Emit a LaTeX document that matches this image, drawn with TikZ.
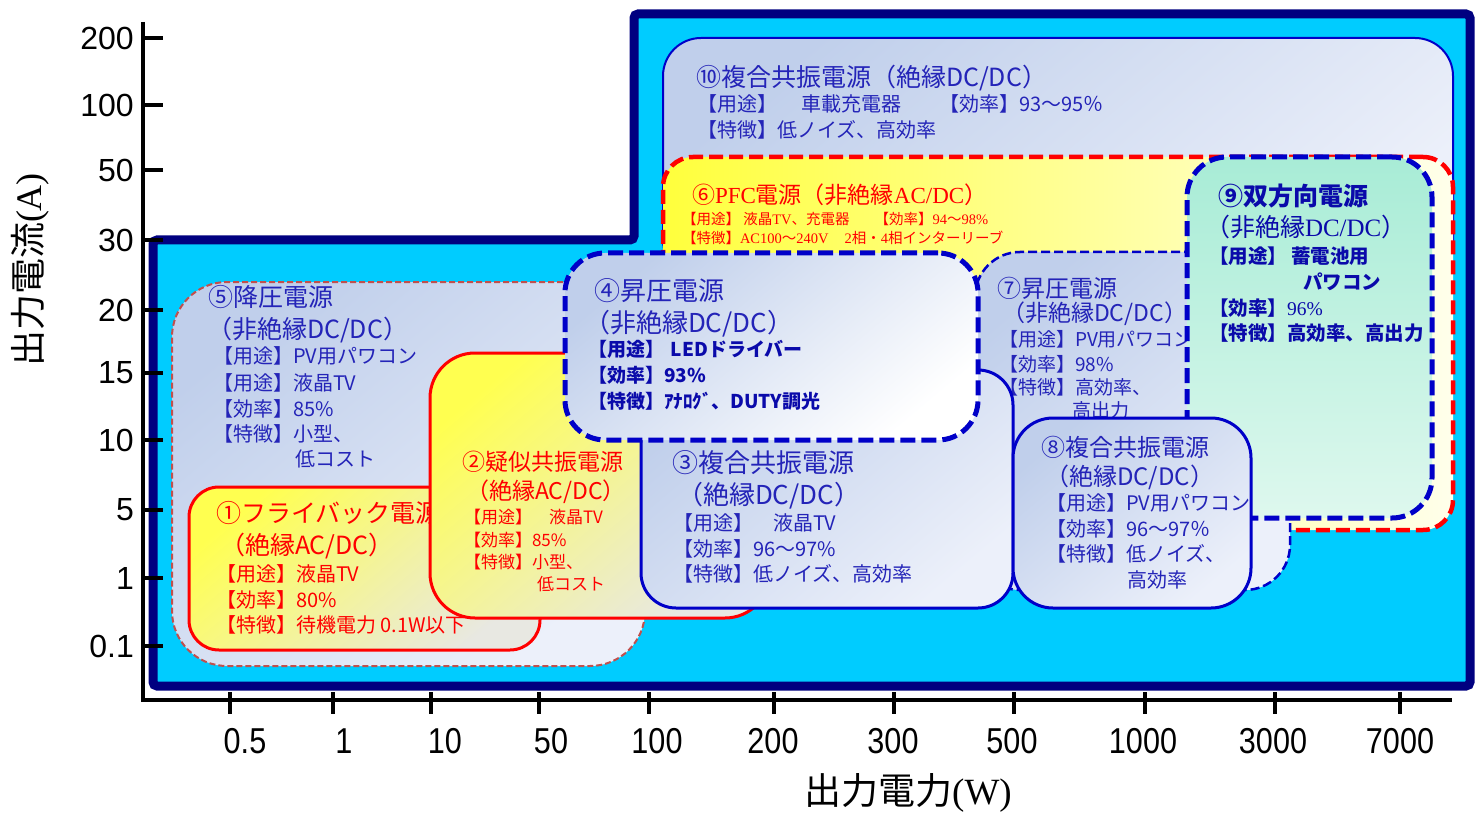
\documentclass[tikz,border=0pt]{standalone}
\usepackage{fontspec}
\setmainfont{Noto Sans CJK JP}
\newfontfamily\serf{Liberation Serif}
\newfontfamily\arl{Liberation Sans}
\definecolor{navyc}{RGB}{0,0,128}
\definecolor{cyanc}{RGB}{0,204,255}
\definecolor{boxblue}{RGB}{0,0,200}
\definecolor{tb}{RGB}{36,36,184}
\definecolor{tbd}{RGB}{10,10,170}
\definecolor{tr}{RGB}{255,0,0}
\definecolor{lav1}{RGB}{192,207,235}
\definecolor{lav2}{RGB}{236,240,250}
\definecolor{yel1}{RGB}{255,255,80}
\definecolor{yel2}{RGB}{232,232,226}
\definecolor{yel6a}{RGB}{255,255,60}
\definecolor{yel6b}{RGB}{255,255,235}
\definecolor{mint1}{RGB}{168,236,214}
\definecolor{mint2}{RGB}{222,248,238}
\definecolor{brd5}{RGB}{192,80,77}
\begin{document}
\begin{tikzpicture}[x=1pt,y=-1pt,
  tx/.style={anchor=base west, inner sep=0pt, outer sep=0pt, font=\fontsize{#1}{#1}\selectfont},
  bx/.style={rectangle, inner sep=0pt, outer sep=0pt, anchor=north west},
  lav/.style={top color=lav1, bottom color=lav2, shading angle=40},
  yel/.style={top color=yel1, bottom color=yel2, shading angle=40},
  axisline/.style={line width=4pt, black},
  tickline/.style={line width=3.5pt, black},
  ylab/.style={anchor=east, inner sep=0pt, font=\arl\fontsize{32}{32}\selectfont},
  xlab/.style={anchor=center, inner sep=0pt, xscale=0.85, font=\arl\fontsize{36}{36}\selectfont},
  thickdash/.style={line width=5pt, dash pattern=on 15pt off 6pt},
  thindash/.style={line width=2.5pt, dash pattern=on 9pt off 4pt}
]
\useasboundingbox (0,0) rectangle (1481,813);
\fill[white] (0,0) rectangle (1481,813);
% background region
\draw[line width=9pt, draw=navyc, fill=cyanc, rounded corners=4pt]
  (153,240) -- (634,240) -- (634,14) -- (1470,14) -- (1470,686) -- (153,686) -- cycle;
% axes
\coordinate (ytop) at (143,22);
\coordinate (orig) at (143,700);
\coordinate (xend) at (1452,700);
\draw[axisline] (ytop) -- (orig) -- (xend);
\foreach \yy/\lab [count=\i] in {38/200,105/100,170/50,240/30,310/20,373/15,440/10,510/5,578/1,646/0.1}{
  \draw[tickline] (143,\yy) -- (163,\yy);
  \node[ylab] (yl\i) at (134,\yy) {\lab};
}
\foreach \xx/\lab/\lx [count=\i] in {230/0.5/245,333/1/344,431/10/445,539/50/551,649/100/657,774/200/773,894/300/893,1014/500/1012,1145/1000/1143,1275/3000/1273,1400/7000/1400}{
  \draw[tickline] (\xx,692) -- (\xx,714);
  \node[xlab] (xl\i) at (\lx,741) {\lab};
}
\node[font=\fontsize{37}{37}\selectfont, inner sep=0pt] (xt) at (908,793) {出力電力{\serf (W)}};
\node[font=\fontsize{36}{36}\selectfont, inner sep=0pt, rotate=90] (yt) at (30,270) {出力電流{\serf (A)}};

% (10)
\node[bx, lav, draw=boxblue, line width=2pt, rounded corners=38pt, minimum width=790pt, minimum height=240pt] (b10) at (663,38) {};
\node[tx=25, text=tb] (t10a) at (696,86.5) {⑩複合共振電源（絶縁DC/DC）};
\node[tx=20, text=tb] (t10b) at (697,111.6) {【用途】\hspace{24pt}車載充電器\hspace{38pt}【効率】93～95％};
\node[tx=20, text=tb] (t10c) at (697,137.6) {【特徴】低ノイズ、高効率};

% (6)
\node[bx, left color=yel6a, right color=yel6b, draw=red, line width=4.5pt, dash pattern=on 14pt off 6pt, rounded corners=30pt, minimum width=790pt, minimum height=373pt] (b6) at (663,157) {};
\node[tx=23, text=tr] (t6a) at (692,203.7) {⑥{\serf PFC}電源（非絶縁{\serf AC/DC}）};
\node[tx=14.5, text=tr] (t6b) at (682,224.5) {【用途】 液晶{\serf TV}、充電器\hspace{25pt}【効率】{\serf 94}～{\serf 98\%}};
\node[tx=14.5, text=tr] (t6c) at (682,243.5) {【特徴】{\serf AC100}～{\serf 240V}\hspace{16pt}{\serf 2}相・{\serf 4}相インターリーブ};

% (7)
\node[bx, lav, draw=boxblue, thindash, rounded corners=45pt, minimum width=315pt, minimum height=338pt] (b7) at (975,252) {};
\node[tx=24, text=tb] (t7a) at (997,298) {⑦昇圧電源};
\node[tx=23, text=tb] (t7b) at (1002,321.7) {（非絶縁DC/DC）};
\node[tx=19, text=tb] (t7c) at (999,346.2) {【用途】PV用パワコン};
\node[tx=19, text=tb] (t7d) at (999,371.2) {【効率】98\%};
\node[tx=19, text=tb] (t7e) at (999,394.2) {【特徴】高効率、};
\node[tx=19, text=tb] (t7f) at (1072,417.2) {高出力};

% (5)
\node[bx, lav, draw=brd5, line width=2pt, dash pattern=on 6pt off 3pt, rounded corners=55pt, minimum width=473pt, minimum height=384pt] (b5) at (172,282) {};
\node[tx=25, text=tb] (t5a) at (208,306.5) {⑤降圧電源};
\node[tx=25, text=tb] (t5b) at (207,338.5) {（非絶縁DC/DC）};
\node[tx=20, text=tb] (t5c) at (213,363.6) {【用途】PV用パワコン};
\node[tx=20, text=tb] (t5d) at (213,390.6) {【用途】液晶TV};
\node[tx=20, text=tb] (t5e) at (213,416.6) {【効率】85\%};
\node[tx=20, text=tb] (t5f) at (213,441.6) {【特徴】小型、};
\node[tx=20, text=tb] (t5g) at (295,466.6) {低コスト};

% (1)
\node[bx, yel, draw=red, line width=3pt, rounded corners=30pt, minimum width=351pt, minimum height=163pt] (b1) at (189,487) {};
\node[tx=25, text=tr] (t1a) at (216,522.5) {①フライバック電源};
\node[tx=25, text=tr] (t1b) at (220,554.5) {（絶縁AC/DC）};
\node[tx=20, text=tr] (t1c) at (216,581.6) {【用途】液晶TV};
\node[tx=20, text=tr] (t1d) at (216,607.6) {【効率】80\%};
\node[tx=20, text=tr] (t1e) at (216,632.6) {【特徴】待機電力 0.1W以下};

% (2)
\node[bx, yel, draw=red, line width=3pt, rounded corners=45pt, minimum width=340pt, minimum height=265pt] (b2) at (430,353) {};
\node[tx=23, text=tr] (t2a) at (462,470.7) {②疑似共振電源};
\node[tx=23, text=tr] (t2b) at (466,499.7) {（絶縁AC/DC）};
\node[tx=17, text=tr] (t2c) at (464,523.5) {【用途】\hspace{17pt}液晶TV};
\node[tx=17, text=tr] (t2d) at (464,546.5) {【効率】85\%};
\node[tx=17, text=tr] (t2e) at (464,568.5) {【特徴】小型、};
\node[tx=17, text=tr] (t2f) at (537,590.5) {低コスト};

% (3)
\node[bx, lav, draw=boxblue, line width=3pt, rounded corners=35pt, minimum width=372pt, minimum height=238pt] (b3) at (641,370) {};
\node[tx=26, text=tb] (t3a) at (672,472) {③複合共振電源};
\node[tx=26, text=tb] (t3b) at (677,504) {（絶縁DC/DC）};
\node[tx=20, text=tb] (t3c) at (673,530.6) {【用途】\hspace{20pt}液晶TV};
\node[tx=20, text=tb] (t3d) at (673,556.6) {【効率】96～97\%};
\node[tx=20, text=tb] (t3e) at (673,581.6) {【特徴】低ノイズ、高効率};

% (4)
\node[bx, top color=lav1, bottom color=white, shading angle=40, draw=boxblue, thickdash, rounded corners=40pt, minimum width=413pt, minimum height=187pt] (b4) at (565,253) {};
\node[tx=26, text=tb] (t4a) at (594,300) {④昇圧電源};
\node[tx=26, text=tb] (t4b) at (584,332) {（非絶縁DC/DC）};
\node[tx=19, text=tbd] (t4c) at (588,356.2) {\bfseries 【用途】\hspace{7pt}LEDドライバー};
\node[tx=19, text=tbd] (t4d) at (588,382.2) {\bfseries 【効率】93\%};
\node[tx=19, text=tbd] (t4e) at (588,408.2) {\bfseries 【特徴】ｱﾅﾛｸﾞ、DUTY調光};

% (9)
\node[bx, top color=mint1, bottom color=mint2, draw=boxblue, thickdash, rounded corners=40pt, minimum width=245pt, minimum height=361pt] (b9) at (1187,157) {};
\node[tx=25, text=tbd] (t9a) at (1218,205.5) {\bfseries ⑨双方向電源};
\node[tx=25, text=tbd] (t9b) at (1205,236.5) {（非絶縁{\serf DC/DC}）};
\node[tx=19.5, text=tbd] (t9c) at (1209,263.4) {\bfseries 【用途】\hspace{4pt}蓄電池用};
\node[tx=19.5, text=tbd] (t9d) at (1303,289.4) {\bfseries パワコン};
\node[tx=19.5, text=tbd] (t9e) at (1209,315.4) {\bfseries 【効率】{\serf\mdseries 96\%}};
\node[tx=19.5, text=tbd] (t9f) at (1209,340.4) {\bfseries 【特徴】高効率、高出力};

% (8)
\node[bx, lav, draw=boxblue, line width=3pt, rounded corners=40pt, minimum width=238pt, minimum height=190pt] (b8) at (1013,418) {};
\node[tx=24, text=tb] (t8a) at (1041,456) {⑧複合共振電源};
\node[tx=24, text=tb] (t8b) at (1045,485) {（絶縁DC/DC）};
\node[tx=20, text=tb] (t8c) at (1046,510.6) {【用途】PV用パワコン};
\node[tx=20, text=tb] (t8d) at (1046,536.6) {【効率】96～97％};
\node[tx=20, text=tb] (t8e) at (1046,561.6) {【特徴】低ノイズ、};
\node[tx=20, text=tb] (t8f) at (1127,587.6) {高効率};
\end{tikzpicture}
\end{document}
